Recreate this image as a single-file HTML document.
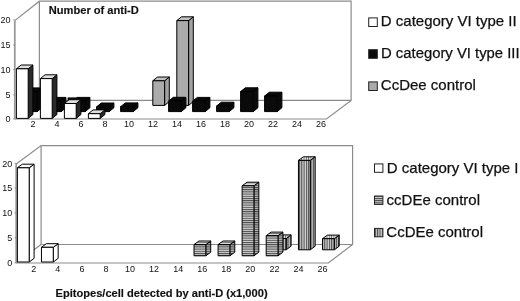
<!DOCTYPE html><html><head><meta charset="utf-8"><style>
html,body{margin:0;padding:0;background:#fff;width:520px;height:301px;overflow:hidden}
svg{display:block;filter:grayscale(1)}
text{font-family:"Liberation Sans",sans-serif;fill:#111}
.lgt{stroke:#111;stroke-width:0.25px}
.ax{font-size:9px}
.lg{font-size:15px}
.tt{font-size:11.1px;font-weight:bold;stroke:#111;stroke-width:0.15px}
</style></head><body>
<svg width="520" height="301" viewBox="0 0 520 301">
<defs>
<pattern id="hs" width="4" height="2.2" patternUnits="userSpaceOnUse"><rect width="4" height="2.2" fill="#d0d0d0"/><rect width="4" height="1" fill="#484848"/></pattern>
<pattern id="hs2" width="4" height="2.2" patternUnits="userSpaceOnUse"><rect width="4" height="2.2" fill="#e4e4e4"/><rect width="4" height="0.8" fill="#666"/></pattern>
<pattern id="hs3" width="4" height="2.2" patternUnits="userSpaceOnUse"><rect width="4" height="2.2" fill="#bdbdbd"/><rect width="4" height="1" fill="#3a3a3a"/></pattern>
<pattern id="vs" width="2.3" height="4" patternUnits="userSpaceOnUse"><rect width="2.3" height="4" fill="#d0d0d0"/><rect width="1" height="4" fill="#484848"/></pattern>
<pattern id="vs2" width="2.3" height="4" patternUnits="userSpaceOnUse"><rect width="2.3" height="4" fill="#e4e4e4"/><rect width="0.8" height="4" fill="#666"/></pattern>
<pattern id="vs3" width="2.3" height="4" patternUnits="userSpaceOnUse"><rect width="2.3" height="4" fill="#bdbdbd"/><rect width="1" height="4" fill="#3a3a3a"/></pattern>
</defs>
<rect width="520" height="301" fill="#fff"/>
<polyline points="14.8,20.6 39.4,1.2 351.1,1.2 351.1,100.4 326.5,119 14.8,119" fill="none" stroke="#8c8c8c" stroke-width="1.2"/>
<line x1="39.4" y1="1.2" x2="39.4" y2="100.4" stroke="#8c8c8c" stroke-width="1.2"/>
<line x1="39.4" y1="100.4" x2="351.1" y2="100.4" stroke="#8c8c8c" stroke-width="1.2"/>
<line x1="14.8" y1="119" x2="39.4" y2="100.4" stroke="#8c8c8c" stroke-width="1.2"/>
<line x1="14.8" y1="20.6" x2="14.8" y2="119" stroke="#9a9a9a" stroke-width="1.8"/>
<line x1="13.2" y1="19.8" x2="14.8" y2="19.8" stroke="#777" stroke-width="0.8"/>
<text x="10.4" y="23" text-anchor="end" class="ax">20</text>
<line x1="13.2" y1="45" x2="14.8" y2="45" stroke="#777" stroke-width="0.8"/>
<text x="10.4" y="48.2" text-anchor="end" class="ax">15</text>
<line x1="13.2" y1="69.6" x2="14.8" y2="69.6" stroke="#777" stroke-width="0.8"/>
<text x="10.4" y="72.8" text-anchor="end" class="ax">10</text>
<line x1="13.2" y1="94.8" x2="14.8" y2="94.8" stroke="#777" stroke-width="0.8"/>
<text x="10.4" y="98" text-anchor="end" class="ax">5</text>
<line x1="13.2" y1="119" x2="14.8" y2="119" stroke="#777" stroke-width="0.8"/>
<text x="10.4" y="122.2" text-anchor="end" class="ax">0</text>
<text x="33" y="127.3" text-anchor="middle" class="ax">2</text>
<text x="57" y="127.3" text-anchor="middle" class="ax">4</text>
<text x="81" y="127.3" text-anchor="middle" class="ax">6</text>
<text x="105" y="127.3" text-anchor="middle" class="ax">8</text>
<text x="129" y="127.3" text-anchor="middle" class="ax">10</text>
<text x="153" y="127.3" text-anchor="middle" class="ax">12</text>
<text x="177" y="127.3" text-anchor="middle" class="ax">14</text>
<text x="201" y="127.3" text-anchor="middle" class="ax">16</text>
<text x="225" y="127.3" text-anchor="middle" class="ax">18</text>
<text x="249" y="127.3" text-anchor="middle" class="ax">20</text>
<text x="273" y="127.3" text-anchor="middle" class="ax">22</text>
<text x="297" y="127.3" text-anchor="middle" class="ax">24</text>
<text x="321" y="127.3" text-anchor="middle" class="ax">26</text>
<g stroke="#000" stroke-width="1" stroke-linejoin="round">
<polygon points="164.6,105.4 164.6,80.8 169.3,77 169.3,101.6" fill="#a2a2a2"/>
<polygon points="152.8,80.8 157.5,77 169.3,77 164.6,80.8" fill="#c2c2c2"/>
<rect x="152.8" y="80.8" width="11.8" height="24.6" fill="#ababab"/>
</g>
<g stroke="#000" stroke-width="1" stroke-linejoin="round">
<polygon points="188.6,105.4 188.6,20.6 193.3,16.8 193.3,101.6" fill="#a2a2a2"/>
<polygon points="176.8,20.6 181.5,16.8 193.3,16.8 188.6,20.6" fill="#c2c2c2"/>
<rect x="176.8" y="20.6" width="11.8" height="84.8" fill="#ababab"/>
</g>
<g stroke="#000" stroke-width="1" stroke-linejoin="round">
<polygon points="37.2,111.6 37.2,91.7 41.9,87.9 41.9,107.8" fill="#0a0a0a"/>
<polygon points="24.6,91.7 29.3,87.9 41.9,87.9 37.2,91.7" fill="#0a0a0a"/>
<rect x="24.6" y="91.7" width="12.6" height="19.9" fill="#0a0a0a"/>
</g>
<g stroke="#000" stroke-width="1" stroke-linejoin="round">
<polygon points="61.2,111.6 61.2,101.2 65.9,97.4 65.9,107.8" fill="#0a0a0a"/>
<polygon points="48.6,101.2 53.3,97.4 65.9,97.4 61.2,101.2" fill="#0a0a0a"/>
<rect x="48.6" y="101.2" width="12.6" height="10.4" fill="#0a0a0a"/>
</g>
<g stroke="#000" stroke-width="1" stroke-linejoin="round">
<polygon points="85.2,111.6 85.2,101.2 89.9,97.4 89.9,107.8" fill="#0a0a0a"/>
<polygon points="72.6,101.2 77.3,97.4 89.9,97.4 85.2,101.2" fill="#0a0a0a"/>
<rect x="72.6" y="101.2" width="12.6" height="10.4" fill="#0a0a0a"/>
</g>
<g stroke="#000" stroke-width="1" stroke-linejoin="round">
<polygon points="109.2,111.6 109.2,106.8 113.9,103 113.9,107.8" fill="#0a0a0a"/>
<polygon points="96.6,106.8 101.3,103 113.9,103 109.2,106.8" fill="#0a0a0a"/>
<rect x="96.6" y="106.8" width="12.6" height="4.8" fill="#0a0a0a"/>
</g>
<g stroke="#000" stroke-width="1" stroke-linejoin="round">
<polygon points="133.2,111.6 133.2,106.7 137.9,102.9 137.9,107.8" fill="#0a0a0a"/>
<polygon points="120.6,106.7 125.3,102.9 137.9,102.9 133.2,106.7" fill="#0a0a0a"/>
<rect x="120.6" y="106.7" width="12.6" height="4.9" fill="#0a0a0a"/>
</g>
<g stroke="#000" stroke-width="1" stroke-linejoin="round">
<polygon points="181.2,111.6 181.2,101.1 185.9,97.3 185.9,107.8" fill="#0a0a0a"/>
<polygon points="168.6,101.1 173.3,97.3 185.9,97.3 181.2,101.1" fill="#0a0a0a"/>
<rect x="168.6" y="101.1" width="12.6" height="10.5" fill="#0a0a0a"/>
</g>
<g stroke="#000" stroke-width="1" stroke-linejoin="round">
<polygon points="205.2,111.6 205.2,101.2 209.9,97.4 209.9,107.8" fill="#0a0a0a"/>
<polygon points="192.6,101.2 197.3,97.4 209.9,97.4 205.2,101.2" fill="#0a0a0a"/>
<rect x="192.6" y="101.2" width="12.6" height="10.4" fill="#0a0a0a"/>
</g>
<g stroke="#000" stroke-width="1" stroke-linejoin="round">
<polygon points="229.2,111.6 229.2,106 233.9,102.2 233.9,107.8" fill="#0a0a0a"/>
<polygon points="216.6,106 221.3,102.2 233.9,102.2 229.2,106" fill="#0a0a0a"/>
<rect x="216.6" y="106" width="12.6" height="5.6" fill="#0a0a0a"/>
</g>
<g stroke="#000" stroke-width="1" stroke-linejoin="round">
<polygon points="253.2,111.6 253.2,91.6 257.9,87.8 257.9,107.8" fill="#0a0a0a"/>
<polygon points="240.6,91.6 245.3,87.8 257.9,87.8 253.2,91.6" fill="#0a0a0a"/>
<rect x="240.6" y="91.6" width="12.6" height="20" fill="#0a0a0a"/>
</g>
<g stroke="#000" stroke-width="1" stroke-linejoin="round">
<polygon points="277.2,111.6 277.2,96 281.9,92.2 281.9,107.8" fill="#0a0a0a"/>
<polygon points="264.6,96 269.3,92.2 281.9,92.2 277.2,96" fill="#0a0a0a"/>
<rect x="264.6" y="96" width="12.6" height="15.6" fill="#0a0a0a"/>
</g>
<rect x="67.6" y="97.4" width="12" height="4" fill="#0a0a0a"/>
<g stroke="#000" stroke-width="1" stroke-linejoin="round">
<polygon points="28.2,118.4 28.2,68.8 32.9,65 32.9,114.6" fill="#2a2a2a"/>
<polygon points="16.4,68.8 21.1,65 32.9,65 28.2,68.8" fill="#dedede"/>
<rect x="16.4" y="68.8" width="11.8" height="49.6" fill="#fff"/>
</g>
<g stroke="#000" stroke-width="1" stroke-linejoin="round">
<polygon points="52.2,118.4 52.2,78.6 56.9,74.8 56.9,114.6" fill="#2a2a2a"/>
<polygon points="40.4,78.6 45.1,74.8 56.9,74.8 52.2,78.6" fill="#dedede"/>
<rect x="40.4" y="78.6" width="11.8" height="39.8" fill="#fff"/>
</g>
<g stroke="#000" stroke-width="1" stroke-linejoin="round">
<polygon points="76.2,118.4 76.2,103.5 80.9,99.7 80.9,114.6" fill="#2a2a2a"/>
<polygon points="64.4,103.5 69.1,99.7 80.9,99.7 76.2,103.5" fill="#dedede"/>
<rect x="64.4" y="103.5" width="11.8" height="14.9" fill="#fff"/>
</g>
<g stroke="#000" stroke-width="1" stroke-linejoin="round">
<polygon points="100.2,118.4 100.2,113.7 104.9,109.9 104.9,114.6" fill="#2a2a2a"/>
<polygon points="88.4,113.7 93.1,109.9 104.9,109.9 100.2,113.7" fill="#dedede"/>
<rect x="88.4" y="113.7" width="11.8" height="4.7" fill="#fff"/>
</g>
<polyline points="16.2,164 41.1,145.6 352.6,145.6 352.6,244.5 328.3,263 16.2,263" fill="none" stroke="#8c8c8c" stroke-width="1.2"/>
<line x1="41.1" y1="145.6" x2="41.1" y2="244.5" stroke="#8c8c8c" stroke-width="1.2"/>
<line x1="41.1" y1="244.5" x2="352.6" y2="244.5" stroke="#8c8c8c" stroke-width="1.2"/>
<line x1="16.2" y1="263" x2="41.1" y2="244.5" stroke="#8c8c8c" stroke-width="1.2"/>
<line x1="16.2" y1="164" x2="16.2" y2="263" stroke="#9a9a9a" stroke-width="1.8"/>
<line x1="14.6" y1="163.3" x2="16.2" y2="163.3" stroke="#777" stroke-width="0.8"/>
<text x="12.2" y="166.5" text-anchor="end" class="ax">20</text>
<line x1="14.6" y1="188" x2="16.2" y2="188" stroke="#777" stroke-width="0.8"/>
<text x="12.2" y="191.2" text-anchor="end" class="ax">15</text>
<line x1="14.6" y1="212.9" x2="16.2" y2="212.9" stroke="#777" stroke-width="0.8"/>
<text x="12.2" y="216.1" text-anchor="end" class="ax">10</text>
<line x1="14.6" y1="237.8" x2="16.2" y2="237.8" stroke="#777" stroke-width="0.8"/>
<text x="12.2" y="241" text-anchor="end" class="ax">5</text>
<line x1="14.6" y1="262.8" x2="16.2" y2="262.8" stroke="#777" stroke-width="0.8"/>
<text x="12.2" y="266" text-anchor="end" class="ax">0</text>
<text x="33.8" y="271.9" text-anchor="middle" class="ax">2</text>
<text x="57.86" y="271.9" text-anchor="middle" class="ax">4</text>
<text x="81.92" y="271.9" text-anchor="middle" class="ax">6</text>
<text x="105.98" y="271.9" text-anchor="middle" class="ax">8</text>
<text x="130.04" y="271.9" text-anchor="middle" class="ax">10</text>
<text x="154.1" y="271.9" text-anchor="middle" class="ax">12</text>
<text x="178.16" y="271.9" text-anchor="middle" class="ax">14</text>
<text x="202.22" y="271.9" text-anchor="middle" class="ax">16</text>
<text x="226.28" y="271.9" text-anchor="middle" class="ax">18</text>
<text x="250.34" y="271.9" text-anchor="middle" class="ax">20</text>
<text x="274.4" y="271.9" text-anchor="middle" class="ax">22</text>
<text x="298.46" y="271.9" text-anchor="middle" class="ax">24</text>
<text x="322.52" y="271.9" text-anchor="middle" class="ax">26</text>
<g stroke="#000" stroke-width="1" stroke-linejoin="round">
<polygon points="286.2,249.8 286.2,238.5 291.1,234.9 291.1,246.2" fill="url(#vs3)"/>
<polygon points="274.4,238.5 279.3,234.9 291.1,234.9 286.2,238.5" fill="url(#vs2)"/>
<rect x="274.4" y="238.5" width="11.8" height="11.3" fill="url(#vs)"/>
</g>
<g stroke="#000" stroke-width="1" stroke-linejoin="round">
<polygon points="310.26,249.8 310.26,160.4 315.16,156.8 315.16,246.2" fill="url(#vs3)"/>
<polygon points="298.46,160.4 303.36,156.8 315.16,156.8 310.26,160.4" fill="url(#vs2)"/>
<rect x="298.46" y="160.4" width="11.8" height="89.4" fill="url(#vs)"/>
</g>
<g stroke="#000" stroke-width="1" stroke-linejoin="round">
<polygon points="334.32,249.8 334.32,238.7 339.22,235.1 339.22,246.2" fill="url(#vs3)"/>
<polygon points="322.52,238.7 327.42,235.1 339.22,235.1 334.32,238.7" fill="url(#vs2)"/>
<rect x="322.52" y="238.7" width="11.8" height="11.1" fill="url(#vs)"/>
</g>
<g stroke="#000" stroke-width="1" stroke-linejoin="round">
<polygon points="205.82,255.8 205.82,244.6 210.72,241 210.72,252.2" fill="url(#hs3)"/>
<polygon points="194.02,244.6 198.92,241 210.72,241 205.82,244.6" fill="url(#hs2)"/>
<rect x="194.02" y="244.6" width="11.8" height="11.2" fill="url(#hs)"/>
</g>
<g stroke="#000" stroke-width="1" stroke-linejoin="round">
<polygon points="229.88,255.8 229.88,244.6 234.78,241 234.78,252.2" fill="url(#hs3)"/>
<polygon points="218.08,244.6 222.98,241 234.78,241 229.88,244.6" fill="url(#hs2)"/>
<rect x="218.08" y="244.6" width="11.8" height="11.2" fill="url(#hs)"/>
</g>
<g stroke="#000" stroke-width="1" stroke-linejoin="round">
<polygon points="253.94,255.8 253.94,185.8 258.84,182.2 258.84,252.2" fill="url(#hs3)"/>
<polygon points="242.14,185.8 247.04,182.2 258.84,182.2 253.94,185.8" fill="url(#hs2)"/>
<rect x="242.14" y="185.8" width="11.8" height="70" fill="url(#hs)"/>
</g>
<g stroke="#000" stroke-width="1" stroke-linejoin="round">
<polygon points="278,255.8 278,235.7 282.9,232.1 282.9,252.2" fill="url(#hs3)"/>
<polygon points="266.2,235.7 271.1,232.1 282.9,232.1 278,235.7" fill="url(#hs2)"/>
<rect x="266.2" y="235.7" width="11.8" height="20.1" fill="url(#hs)"/>
</g>
<g stroke="#000" stroke-width="1" stroke-linejoin="round">
<polygon points="29.2,262 29.2,167.8 34.1,164.2 34.1,258.4" fill="#fff"/>
<polygon points="17.4,167.8 22.3,164.2 34.1,164.2 29.2,167.8" fill="#fff"/>
<rect x="17.4" y="167.8" width="11.8" height="94.2" fill="#fff"/>
</g>
<g stroke="#000" stroke-width="1" stroke-linejoin="round">
<polygon points="53.26,262 53.26,247.3 58.16,243.7 58.16,258.4" fill="#fff"/>
<polygon points="41.46,247.3 46.36,243.7 58.16,243.7 53.26,247.3" fill="#fff"/>
<rect x="41.46" y="247.3" width="11.8" height="14.7" fill="#fff"/>
</g>
<text x="48.8" y="14.3" class="tt">Number of anti-D</text>
<text x="55.5" y="296.7" class="tt">Epitopes/cell detected by anti-D (x1,000)</text>
<rect x="368.7" y="17.9" width="8.6" height="8.6" fill="#fff" stroke="#222" stroke-width="1"/>
<text x="380.8" y="25.7" class="lgt" style="font-size:15px">D category VI type II</text>
<rect x="368.7" y="49.7" width="8.6" height="8.6" fill="#0a0a0a" stroke="#222" stroke-width="1"/>
<text x="381" y="58.1" class="lgt" style="font-size:14.85px">D category VI type III</text>
<rect x="368.7" y="81.9" width="8.6" height="8.6" fill="#ababab" stroke="#222" stroke-width="1"/>
<text x="380.8" y="90.2" class="lgt" style="font-size:15px">CcDee control</text>
<rect x="374.5" y="163.9" width="8.4" height="8.4" fill="#fff" stroke="#222" stroke-width="1"/>
<text x="386.8" y="172.6" class="lgt" style="font-size:15px">D category VI type I</text>
<rect x="374.5" y="196" width="8.4" height="8.4" fill="url(#hs)" stroke="#222" stroke-width="1"/>
<text x="386.6" y="204.5" class="lgt" style="font-size:15px">ccDEe control</text>
<rect x="374.5" y="228.4" width="8.4" height="8.4" fill="url(#vs)" stroke="#222" stroke-width="1"/>
<text x="386.3" y="236.7" class="lgt" style="font-size:15px">CcDEe control</text>
</svg></body></html>
